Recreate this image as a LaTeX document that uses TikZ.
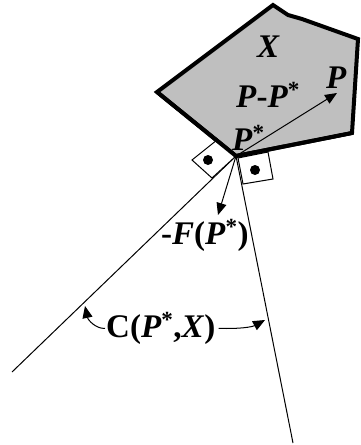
\documentclass[tikz,border=0pt]{standalone}
\usepackage{fontspec}
\setmainfont{Liberation Serif}
\usetikzlibrary{arrows.meta}
\tikzset{
  region/.style={draw=black, fill=black!25, line width=4pt, line join=miter},
  thin/.style={draw=black, line width=1pt},
  arr/.style={draw=black, line width=1pt, -{Triangle[length=12pt,width=10pt]}},
  lbl/.style={inner sep=0pt, anchor=base west, font=\fontsize{33}{38}\selectfont\bfseries},
  markbox/.style={draw=black, line width=1pt, fill=white},
  markdot/.style={fill=black}
}
\newcommand{\bi}[1]{\textit{#1}}
\begin{document}
\begin{tikzpicture}[x=1pt,y=-1pt]
\useasboundingbox (0,0) rectangle (361,445);
% polygon X
\coordinate (Ps) at (236,156);
\coordinate (A) at (157,92);
\coordinate (B) at (273,5);
\coordinate (B1) at (288,15);
\coordinate (B2) at (302,19);
\coordinate (Cc) at (358,39);
\coordinate (D) at (352,133);
\path[region] (Ps) -- (A) -- (B) -- (B1) -- (B2) -- (Cc) -- (D) -- cycle;
% cone lines
\coordinate (L) at (12,372);
\coordinate (R) at (293,443);
\draw[thin] (Ps) -- (L);
\draw[thin] (Ps) -- (R);
% right-angle marks
\draw[markbox] (Ps) -- (217,140) -- (192,160) -- (212,178) -- cycle;
\fill[markdot] (208,160) circle (5);
\draw[markbox] (238,158) -- (268,152) -- (273,179) -- (243,184) -- cycle;
\fill[markdot] (255,170) circle (5);
% redraw polygon edges over marks at vertex
\draw[line width=4pt, line join=miter] (A) -- (Ps) -- (D);
% vectors
\coordinate (Ptip) at (337,93);
\coordinate (Ftip) at (218,215);
\draw[arr] (Ps) -- (Ptip);
\draw[arr] (Ps) -- (Ftip);
% labels
\node[lbl] (lX) at (257,57) {\bi{X}};
\node[lbl] (lP) at (326,88) {\bi{P}};
\node[lbl] (lPP) at (236,107) {\bi{P}-\bi{P}\textsuperscript{*}};
\node[lbl] (lPs) at (232,150) {\bi{P}\textsuperscript{*}};
\node[lbl] (lF) at (161,244) {-\bi{F}(\bi{P}\textsuperscript{*})};
\node[lbl] (lC) at (106,337) {C(\bi{P}\textsuperscript{*},\bi{X})};
% cone arrows
\coordinate (Ct1) at (85,306);
\coordinate (Ct2) at (265,320);
\draw[arr] ([xshift=-1pt]lC.west) .. controls (96,329) and (88,320) .. (Ct1);
\draw[arr] ([xshift=3pt]lC.east) .. controls (240,329) and (252,327) .. (Ct2);
\end{tikzpicture}
\end{document}
